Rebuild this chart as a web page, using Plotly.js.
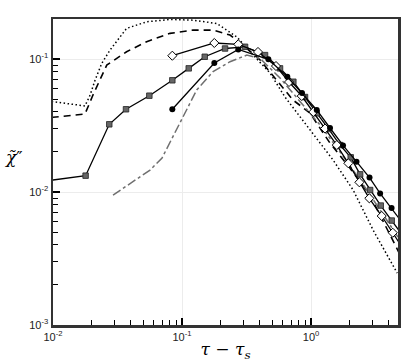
<!DOCTYPE html>
<html>
<head>
<meta charset="utf-8">
<script src="https://cdn.plot.ly/plotly-3.0.1.min.js"></script>
<style>
  html, body { margin: 0; padding: 0; background: #fff; }
  #chart { width: 407px; height: 362px; }
</style>
</head>
<body>
<div id="chart"></div>
<script>
// series (log-log)
const dottedX = [0.0079, 0.01, 0.0177, 0.0194, 0.0212, 0.0239, 0.0277, 0.0372, 0.0532, 0.0807, 0.1216, 0.186, 0.267, 0.368, 0.481, 0.628, 0.822, 1.175, 1.482, 2.12, 3.03, 4.65];
const dottedY = [0.0492, 0.0478, 0.0444, 0.0536, 0.0695, 0.0929, 0.117, 0.170, 0.1905, 0.1985, 0.196, 0.185, 0.146, 0.1035, 0.0785, 0.0518, 0.0366, 0.0233, 0.0174, 0.01035, 0.00517, 0.00246];

const dashedX = [0.0079, 0.01, 0.0177, 0.0204, 0.0261, 0.0372, 0.0532, 0.0807, 0.1216, 0.174, 0.2355, 0.297, 0.403, 0.724, 0.981, 1.403, 2.005, 2.86, 4.32, 5.3];
const dashedY = [0.0356, 0.0365, 0.0386, 0.0536, 0.0901, 0.1135, 0.135, 0.156, 0.165, 0.165, 0.1514, 0.127, 0.0983, 0.0492, 0.0393, 0.0233, 0.0151, 0.00948, 0.00435, 0.0029];

const squareX = [0.0079, 0.0179, 0.0273, 0.0368, 0.0558, 0.0841, 0.1127, 0.150, 0.2155, 0.308, 0.440, 0.575, 0.729, 0.898, 1.107, 1.367, 1.678, 2.03, 2.40, 2.87, 3.47, 4.22, 5.17];
const squareY = [0.01195, 0.01327, 0.0323, 0.0419, 0.053, 0.0692, 0.0851, 0.104, 0.120, 0.1236, 0.107, 0.0851, 0.0675, 0.0518, 0.0391, 0.0298, 0.02255, 0.01823, 0.01358, 0.01035, 0.00791, 0.0061, 0.00467];

const diamondX = [0.0841, 0.178, 0.273, 0.388, 0.535, 0.675, 0.847, 1.042, 1.284, 1.583, 1.946, 2.37, 2.83, 3.53, 4.30, 5.26];
const diamondY = [0.1059, 0.132, 0.129, 0.113, 0.0886, 0.0672, 0.0527, 0.040, 0.030, 0.02255, 0.01644, 0.01183, 0.00897, 0.0066, 0.00494, 0.00366];

const circleX = [0.0841, 0.178, 0.273, 0.467, 0.655, 0.851, 1.107, 1.403, 1.770, 2.25, 2.84, 3.43, 4.21, 5.26];
const circleY = [0.0419, 0.0933, 0.118, 0.0995, 0.0736, 0.0555, 0.0414, 0.0303, 0.0224, 0.0169, 0.01285, 0.00975, 0.00759, 0.00565];

const dashdotX = [0.0292, 0.0417, 0.0565, 0.070, 0.0807, 0.1023, 0.130, 0.174, 0.2355, 0.318, 0.403, 0.575, 0.822, 1.175, 1.678, 2.40, 3.43, 4.72];
const dashdotY = [0.00948, 0.01194, 0.01462, 0.01803, 0.02377, 0.0368, 0.0585, 0.0803, 0.0955, 0.107, 0.101, 0.072, 0.0483, 0.0319, 0.020, 0.0123, 0.00733, 0.00459];

const xTickVals = [0.01, 0.1, 1];
const xTickText = ["10<sup>-2</sup>", "10<sup>-1</sup>", "10<sup>0</sup>"];
const yTickVals = [0.001, 0.01, 0.1];
const yTickText = ["10<sup>-3</sup>", "10<sup>-2</sup>", "10<sup>-1</sup>"];

// minor ticks 2..9 in each decade
const minorX = [];
const minorY = [];
[0.01, 0.1, 1].forEach((d) => { for (let k = 2; k <= 9; k++) minorX.push(d * k); });
[0.001, 0.01, 0.1].forEach((d) => { for (let k = 2; k <= 9; k++) minorY.push(d * k); });

const xRange = [-2, 0.674];
const yRange = [-3, -0.699];

const traces = [
  { x: dottedX, y: dottedY, mode: "lines", line: { color: "#000", width: 1.5, dash: "1.5px,2.5px" } },
  { x: dashedX, y: dashedY, mode: "lines", line: { color: "#000", width: 1.6, dash: "7px,5px" } },
  { x: dashdotX, y: dashdotY, mode: "lines", line: { color: "#6f6f6f", width: 1.5, dash: "dashdot" } },
  {
    x: squareX, y: squareY, mode: "lines+markers",
    line: { color: "#000", width: 1.3 },
    marker: { symbol: "square", size: 5.5, color: "#666", line: { color: "#222", width: 0.8 } },
  },
  {
    x: diamondX, y: diamondY, mode: "lines+markers",
    line: { color: "#000", width: 1.3 },
    marker: { symbol: "diamond", size: 7, color: "#fff", line: { color: "#000", width: 1 } },
  },
  {
    x: circleX, y: circleY, mode: "lines+markers",
    line: { color: "#000", width: 1.3 },
    marker: { symbol: "circle", size: 6, color: "#000" },
  },
  // empty trace so the minor-tick axes get drawn
  { x: [], y: [], xaxis: "x2", yaxis: "y2" },
];

const layout = {
  width: 407,
  height: 362,
  margin: { l: 53, r: 9, t: 19, b: 37 },
  paper_bgcolor: "#fff",
  plot_bgcolor: "#fff",
  showlegend: false,
  xaxis: {
    type: "log",
    range: xRange,
    showline: true,
    mirror: true,
    linecolor: "#333",
    linewidth: 2.5,
    ticks: "inside",
    ticklen: 7,
    tickwidth: 2.5,
    tickcolor: "#000",
    tickmode: "array",
    tickvals: xTickVals,
    ticktext: xTickText,
    gridcolor: "#ececec",
    zeroline: false,
    tickfont: { family: "Liberation Sans, Arial, sans-serif", size: 11, color: "#222" },
    title: { text: "<i>τ</i> − <i>τ<sub>s</sub></i>", font: { family: "DejaVu Serif, serif", size: 17, color: "#000" }, standoff: 4 },
  },
  yaxis: {
    type: "log",
    range: yRange,
    showline: true,
    mirror: true,
    linecolor: "#333",
    linewidth: 2.5,
    ticks: "inside",
    ticklen: 7,
    tickwidth: 2.5,
    tickcolor: "#000",
    tickmode: "array",
    tickvals: yTickVals,
    ticktext: yTickText,
    gridcolor: "#ececec",
    zeroline: false,
    tickfont: { family: "Liberation Sans, Arial, sans-serif", size: 11, color: "#222" },
  },
  xaxis2: {
    type: "log", overlaying: "x", anchor: "y2", range: xRange,
    ticks: "inside", ticklen: 5, tickwidth: 1, tickcolor: "#000",
    tickmode: "array", tickvals: minorX, showticklabels: false, showgrid: false, zeroline: false,
  },
  yaxis2: {
    type: "log", overlaying: "y", anchor: "x2", range: yRange,
    ticks: "inside", ticklen: 5, tickwidth: 1, tickcolor: "#000",
    tickmode: "array", tickvals: minorY, showticklabels: false, showgrid: false, zeroline: false,
  },
  annotations: [
    {
      xref: "paper", yref: "paper", x: -0.145, y: 0.55, xanchor: "left", yanchor: "middle",
      showarrow: false,
      text: "<i>χ̃</i>″",
      font: { family: "DejaVu Serif, serif", size: 17, color: "#000" },
    },
  ],
};

Plotly.newPlot("chart", traces, layout, { displayModeBar: false, staticPlot: true });
</script>
</body>
</html>
